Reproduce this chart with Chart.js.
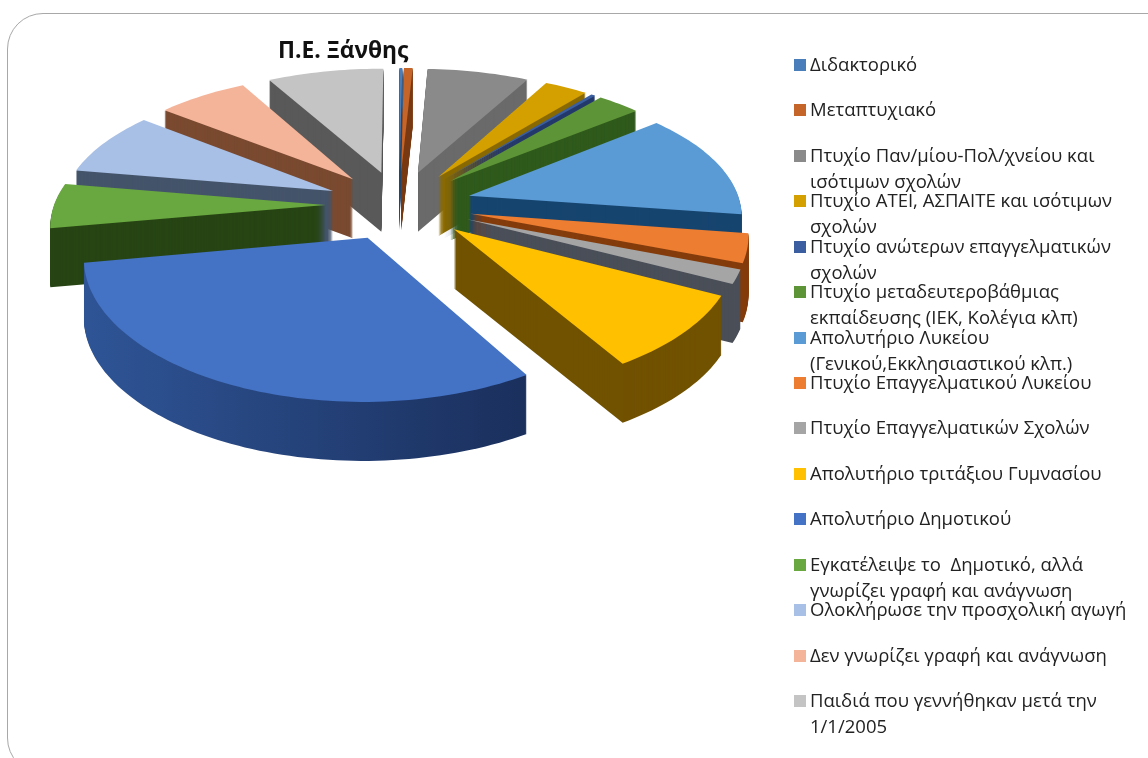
<!DOCTYPE html>
<html lang="el">
<head>
<meta charset="utf-8">
<title>Π.Ε. Ξάνθης</title>
<script src="https://cdn.jsdelivr.net/npm/chart.js@4"></script>
<style>
    html, body { margin: 0; width: 1148px; height: 758px; overflow: hidden; background: #fff; }
    #frame { position: absolute; left: 7px; top: 13px; width: 1300px; height: 759px; border: 1.5px solid #a8a8a8; border-radius: 36px; }
    #pie { position: absolute; left: 0; top: 0; }
    #title { position: absolute; left: 278px; top: 34px; font: bold 22.8px "Open Sans", sans-serif; color: #111; }
    .item { position: absolute; left: 810px; font: 18.5px/26px "Open Sans", sans-serif; color: #222; white-space: pre; }
    .swatch { position: absolute; left: 794px; width: 12px; height: 12px; }
</style>
</head>
<body>
<div id="frame"></div>
<canvas id="pie" width="798" height="480"></canvas>
<div id="title">Π.Ε. Ξάνθης</div>
<script>
const categories = [
    'Διδακτορικό',
    'Μεταπτυχιακό',
    'Πτυχίο Παν/μίου-Πολ/χνείου και\nισότιμων σχολών',
    'Πτυχίο ΑΤΕΙ, ΑΣΠΑΙΤΕ και ισότιμων\nσχολών',
    'Πτυχίο ανώτερων επαγγελματικών\nσχολών',
    'Πτυχίο μεταδευτεροβάθμιας\nεκπαίδευσης (ΙΕΚ, Κολέγια κλπ)',
    'Απολυτήριο Λυκείου\n(Γενικού,Εκκλησιαστικού κλπ.)',
    'Πτυχίο Επαγγελματικού Λυκείου',
    'Πτυχίο Επαγγελματικών Σχολών',
    'Απολυτήριο τριτάξιου Γυμνασίου',
    'Απολυτήριο Δημοτικού',
    'Εγκατέλειψε το  Δημοτικό, αλλά\nγνωρίζει γραφή και ανάγνωση',
    'Ολοκλήρωσε την προσχολική αγωγή',
    'Δεν γνωρίζει γραφή και ανάγνωση',
    'Παιδιά που γεννήθηκαν μετά την\n1/1/2005'
];
const shares = [0.2, 0.6, 7.0, 3.0, 0.3, 3.0, 13.2, 3.5, 1.7, 8.9, 30.8, 5.5, 8.0, 6.3, 8.0];
const topColors = ['#4a7ebb', '#c5652a', '#8a8a8a', '#d4a000', '#3a5ea0', '#5e9438', '#5b9bd5', '#ed7d31',
    '#a5a5a5', '#ffc000', '#4472c4', '#69a840', '#a9c0e6', '#f4b49a', '#c4c4c4'];
const sideColors = ['#2a4a70', '#7a3c14', '#6a6a6a', '#8a6a00', '#24396b', '#2f5a1c', '#16456f', '#843c0c',
    '#4a4f58', '#715200', '#1f3864', '#274514', '#44546a', '#7a4a30', '#595959'];

// Projektion der Kreisebene
const explode = 0.27;
const scaleX = 1.325;
const scaleY = 0.627;
const perspX = 0.13;
const perspY = 0.15;
const depth = 59;

function project(el, X, Y) {
    return [
        el.x + el.outerRadius * scaleX * X / (1 - perspX * Y),
        el.y + el.outerRadius * scaleY * Y / (1 - perspY * Y)
    ];
}

function slicePath(ctx, el, dy) {
    const a0 = el.startAngle + Math.PI / 2;
    const a1 = el.endAngle + Math.PI / 2;
    const mid = (a0 + a1) / 2;
    const ox = explode * Math.sin(mid);
    const oy = -explode * Math.cos(mid);
    const apex = project(el, ox, oy);
    ctx.beginPath();
    ctx.moveTo(apex[0], apex[1] + dy);
    const steps = Math.max(4, Math.ceil((a1 - a0) * 40));
    for (let i = 0; i <= steps; i++) {
        const t = a0 + (a1 - a0) * i / steps;
        const p = project(el, ox + Math.sin(t), oy - Math.cos(t));
        ctx.lineTo(p[0], p[1] + dy);
    }
    ctx.closePath();
}

const tiltedPie = {
    id: 'tiltedPie',
    beforeDatasetDraw() { return false; },
    afterDatasetsDraw(chart) {
        const ctx = chart.ctx;
        const arcs = chart.getDatasetMeta(0).data.map((el, i) => ({ el, i }));
        // von hinten nach vorne zeichnen
        arcs.sort((a, b) => {
            const ma = (a.el.startAngle + a.el.endAngle) / 2 + Math.PI / 2;
            const mb = (b.el.startAngle + b.el.endAngle) / 2 + Math.PI / 2;
            return Math.cos(mb) - Math.cos(ma);
        });
        ctx.save();
        arcs.forEach(({ el, i }) => {
            let side = sideColors[i];
            if (i === 10) {
                side = ctx.createLinearGradient(78, 0, 530, 0);
                side.addColorStop(0, '#2f5597');
                side.addColorStop(1, '#1a2f5c');
            }
            ctx.fillStyle = side;
            for (let d = depth; d > 0; d--) {
                slicePath(ctx, el, d);
                ctx.fill();
            }
            ctx.fillStyle = topColors[i];
            slicePath(ctx, el, 0);
            ctx.fill();
        });
        ctx.restore();
    }
};

new Chart(document.getElementById('pie'), {
    type: 'pie',
    data: {
        labels: categories,
        datasets: [{ data: shares, backgroundColor: topColors, borderWidth: 0 }]
    },
    options: {
        responsive: false,
        animation: false,
        layout: { padding: { bottom: 70 } },
        plugins: { legend: { display: false }, tooltip: { enabled: false } }
    },
    plugins: [tiltedPie]
});

// Legende
categories.forEach((label, i) => {
    const y = 65 + i * 45.43;
    const sw = document.createElement('div');
    sw.className = 'swatch';
    sw.style.top = (y - 6) + 'px';
    sw.style.background = topColors[i];
    document.body.appendChild(sw);
    const item = document.createElement('div');
    item.className = 'item';
    item.style.top = (y - 14) + 'px';
    item.textContent = label;
    document.body.appendChild(item);
});
</script>
</body>
</html>
